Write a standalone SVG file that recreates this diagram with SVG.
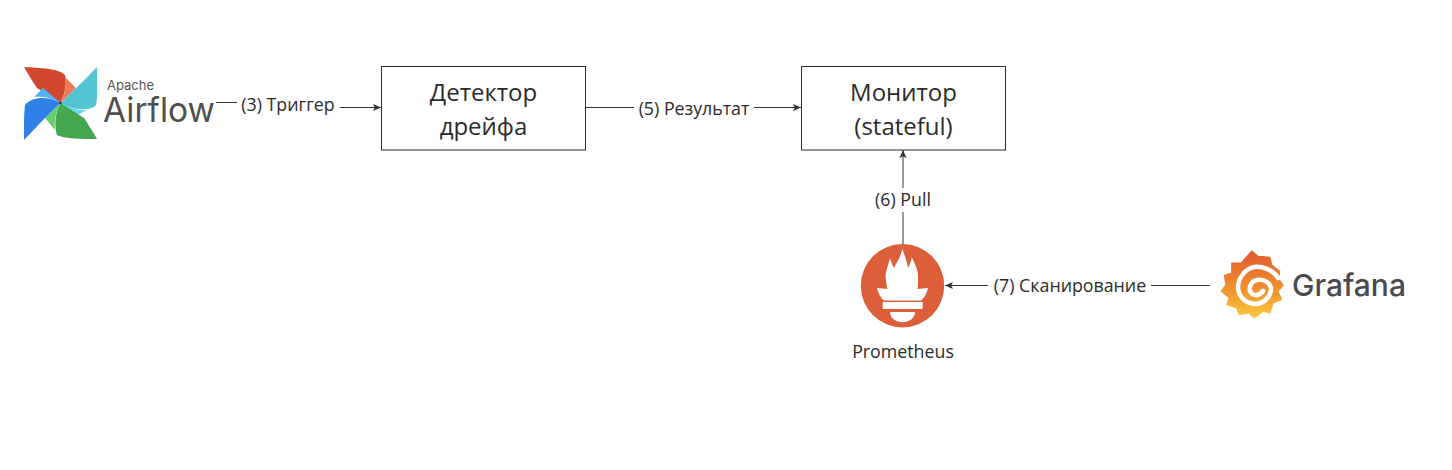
<svg xmlns="http://www.w3.org/2000/svg" width="1452" height="470" viewBox="0 0 1452 470">
<style>
text{font-family:"Open Sans","Noto Sans","Liberation Sans",sans-serif;fill:#2b2b2b}
.box{fill:#fff;stroke:#2b2b2b;stroke-width:1}
.t{font-size:24px;text-anchor:middle}
.l{font-size:17.800px;text-anchor:middle}
.c{fill:none;stroke:#333;stroke-width:1}
.bg{fill:#fff;stroke:none}
</style>
<defs>
<marker id="a" markerWidth="9" markerHeight="8" refX="8" refY="4" orient="auto" markerUnits="userSpaceOnUse"><path d="M0 0.500L8 4L0 7.500L1.800 4Z" fill="#333"/></marker>
<linearGradient id="g" x1="0" y1="0" x2="0" y2="1"><stop offset="0" stop-color="#e2582f"/><stop offset="0.55" stop-color="#f08f2e"/><stop offset="1" stop-color="#fbca3c"/></linearGradient>
</defs>
<g id="connectors">
<path class="c" d="M216 102.500H288V107.500H381" marker-end="url(#a)"/>
<path class="c" d="M586 107.500H801" marker-end="url(#a)"/>
<path class="c" d="M903 244V150" marker-end="url(#a)"/>
<path class="c" d="M1210 285.500H945" marker-end="url(#a)"/>
<rect class="bg" x="237" y="94" width="103" height="24"/>
<text class="l" x="288" y="111">(3) Триггер</text>
<rect class="bg" x="634" y="97" width="120" height="24"/>
<text class="l" x="694" y="115">(5) Результат</text>
<rect class="bg" x="870" y="188" width="66" height="24"/>
<text class="l" x="903" y="206">(6) Pull</text>
<rect class="bg" x="988" y="274" width="163" height="24"/>
<text class="l" x="1070" y="292">(7) Сканирование</text>
</g>
<g id="airflow">
<path d="M60.500 103L37 88C33 82 28 74 24 67C40 68 58 68 65 75C67 84 65 94 60.500 103Z" fill="#d2482e"/>
<path d="M60.500 103C65 94 67 85 65 77L76 88Z" fill="#ef7b5c"/>
<path d="M60.500 103L76 88C82 83 90 74 97 67C97 82 98 98 96 105C90 112 72 110 60.500 103Z" fill="#55c4d2"/>
<path d="M60.500 103C70 108 79 111 87 110L72 118Z" fill="#62dcec"/>
<path d="M60.500 103L84 118C88 124 93 132 97 139C82 139 64 139 57 135C54 126 55 113 60.500 103Z" fill="#45a850"/>
<path d="M60.500 103C56 112 54 120 55 130L45 118Z" fill="#66cf6f"/>
<path d="M60.500 103L45 118C39 124 31 133 24 140C24 124 24 112 25 105C32 96 49 96 60.500 103Z" fill="#2f80e8"/>
<path d="M60.500 103C50 97 42 96 34 97L43 88Z" fill="#52b3f4"/>
<circle cx="60.500" cy="103" r="1.300" fill="#333"/>
<text x="107" y="90" font-size="13" style="font-family:Inter,'Liberation Sans',sans-serif;fill:#555">Apache</text>
<text x="103" y="122" font-size="33.500" style="font-family:Inter,'Liberation Sans',sans-serif;fill:#4f4f4f">Airflow</text>
</g>
<g id="detector">
<rect class="box" x="381.500" y="66.500" width="204" height="83.500"/>
<text class="t" x="483.500" y="101">Детектор</text>
<text class="t" x="483.500" y="135">дрейфа</text>
</g>
<g id="monitor">
<rect class="box" x="801.500" y="66.500" width="204" height="83.500"/>
<text class="t" x="903.500" y="101">Монитор</text>
<text class="t" x="903.500" y="135">(stateful)</text>
</g>
<g id="prometheus">
<circle cx="902.500" cy="285.700" r="41.700" fill="#dc5f3a"/>
<path d="M902.300 249C905 256 907 262 908 268C910 265 911 261 911.700 257C915 264 918 270 918 276C918 281 918 285 917.500 289L928 288C927 293 925 297 921 300.500H884C880 297 878 293 877 288L887.500 289C886.500 285 885.500 280 885.700 275C886 269 889 264 890 258C891 262 892.500 265 894 268C897 262 901 256 902.300 249Z" fill="#fff"/>
<rect x="882.700" y="302" width="40" height="7" fill="#fff"/>
<path d="M890 312H915C915 318 909 322.300 902.500 322.300C896 322.300 890 318 890 312Z" fill="#fff"/>
<text x="903" y="358" font-size="17.800" text-anchor="middle">Prometheus</text>
</g>
<g id="grafana">
<path d="M1251.700 250.700L1258.300 256.300L1270 257.300L1271.700 264.700L1280 271.300L1278.300 278L1283.300 285.300L1278.300 291.300L1281.700 299.700L1273.300 303L1270 313L1263.300 311.300L1254.300 318L1248.300 313L1239 314.700L1236.700 308L1226.700 304.700L1229 298L1221 291.300L1225.700 284.700L1224.300 275.300L1231.700 273L1231.700 263L1241 263Z" fill="url(#g)" stroke="url(#g)" stroke-width="1" stroke-linejoin="round"/>
<path d="M1278 278C1273 270 1263 266 1254 267C1245 269 1238 278 1238 288C1239 298 1247 304 1256 304C1265 303 1271 296 1271 288C1270 282 1263 279 1257 280C1251 281 1249 287 1250 291C1252 296 1258 297 1263 291" fill="none" stroke="#fff" stroke-width="4.500" stroke-linecap="round"/>
<text x="1292" y="296" font-size="30" font-weight="500" style="font-family:Inter,'Liberation Sans',sans-serif;fill:#4a4a4e">Grafana</text>
</g>
</svg>
